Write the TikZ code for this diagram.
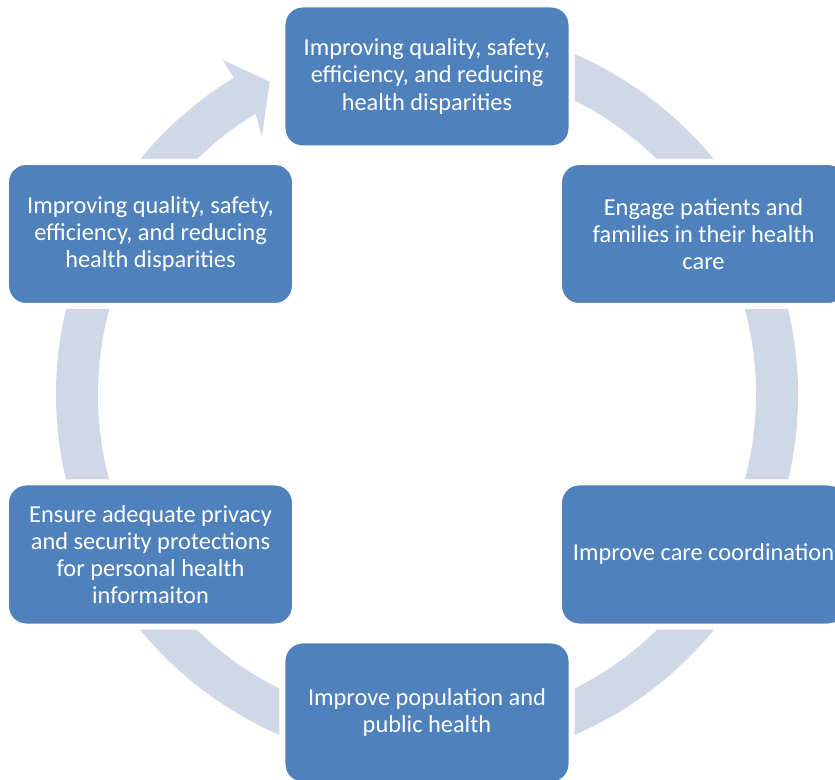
\documentclass[tikz,border=0pt]{standalone}
\usepackage{fontspec}
\setmainfont{Carlito}
\usepackage{tikz}
\definecolor{boxblue}{HTML}{4F81BD}
\definecolor{ringblue}{HTML}{D0D8E8}
\tikzset{goal/.style={draw=white, line width=0.18cm, fill=boxblue, rounded corners=0.6cm,
    minimum width=8.67cm, minimum height=4.32cm, inner sep=0pt, align=center,
    text=white, font=\fontsize{20.8}{23.2}\selectfont}}

\begin{document}
\begin{tikzpicture}[x=0.03cm, y=0.03cm]
    \useasboundingbox (0, 0) rectangle (835, 780);
    \clip (0, 0) rectangle (835, 780);
    \coordinate (C) at (427, 385.5);

    % the cycle ring, with its one arrowhead
    \begin{scope}[shift={(C)}]
        \fill [ringblue] (100:371) arc [start angle=100, end angle=-238.6, radius=371]
            -- (121.4:392) -- (116.7:350) -- (122.65:306) -- (121.4:329)
            arc [start angle=-238.6, end angle=100, radius=329] -- cycle;
    \end{scope}

    \node [goal] (quality) at (427, 703.5) {Improving quality, safety,\\ efficiency, and reducing\\ health disparities};
    \node [goal] (engage) at (703.5, 546) {Engage patients and\\ families in their health\\ care};
    \node [goal] (coord) at (703.5, 225.5) {Improve care coordination};
    \node [goal] (public) at (427, 67.5) {Improve population and\\ public health};
    \node [goal] (privacy) at (150.5, 225.5) {Ensure adequate privacy\\ and security protections\\ for personal health\\ informaiton};
    \node [goal] (disparity) at (150.5, 546) {Improving quality, safety,\\ efficiency, and reducing\\ health disparities};
\end{tikzpicture}
\end{document}
